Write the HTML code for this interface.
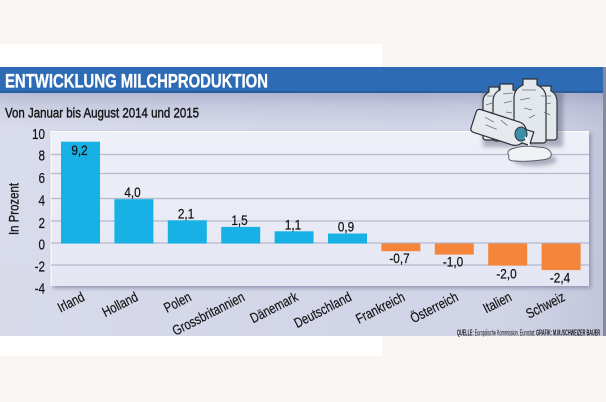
<!DOCTYPE html>
<html><head><meta charset="utf-8"><style>
html,body{margin:0;padding:0;width:606px;height:402px;overflow:hidden;background:#f9f6f4}
svg{display:block}
text{font-family:"Liberation Sans",Arial,sans-serif}
</style></head><body>
<svg width="606" height="402" viewBox="0 0 606 402" xmlns="http://www.w3.org/2000/svg">
<defs>
<linearGradient id="bg" x1="0" y1="0" x2="0" y2="1">
<stop offset="0" stop-color="#a9aecb"/>
<stop offset="0.06" stop-color="#c3c7dd"/>
<stop offset="0.15" stop-color="#d3d6e9"/>
<stop offset="1" stop-color="#d1d4e7"/>
</linearGradient>
<linearGradient id="bgh" x1="0" y1="0" x2="1" y2="0">
<stop offset="0" stop-color="#ffffff" stop-opacity="0.15"/>
<stop offset="0.7" stop-color="#ffffff" stop-opacity="0"/>
<stop offset="1" stop-color="#9095b5" stop-opacity="0.25"/>
</linearGradient>
<linearGradient id="pan" x1="0" y1="0" x2="0" y2="1">
<stop offset="0" stop-color="#eef0f8"/>
<stop offset="1" stop-color="#e4e7f3"/>
</linearGradient>
<filter id="sh" x="-10%" y="-10%" width="130%" height="130%">
<feGaussianBlur stdDeviation="2"/>
</filter>
</defs>

<rect x="0" y="0" width="606" height="402" fill="#f9f6f4"/>
<rect x="0" y="44" width="382" height="23" fill="#ffffff"/>
<rect x="0" y="336" width="382" height="20" fill="#ffffff"/>

<rect x="0" y="92" width="603" height="244" fill="url(#bg)"/>
<rect x="0" y="92" width="603" height="244" fill="url(#bgh)"/>
<rect x="603" y="67" width="3" height="269" fill="#858999"/>

<rect x="0" y="67" width="603" height="26" fill="#2d6bb4"/>
<rect x="0" y="91" width="603" height="2" fill="#255d9f"/>
<text x="5" y="87.5" font-size="19" font-weight="bold" fill="#ffffff" textLength="263" lengthAdjust="spacingAndGlyphs" stroke="#ffffff" stroke-width="0.3">ENTWICKLUNG MILCHPRODUKTION</text>

<text x="5" y="117.3" font-size="14" fill="#151515" textLength="194" lengthAdjust="spacingAndGlyphs" stroke="#151515" stroke-width="0.4">Von Januar bis August 2014 und 2015</text>

<rect x="53" y="133" width="538" height="155" fill="#8e93ad" filter="url(#sh)"/>
<rect x="50.5" y="131" width="538.5" height="155" fill="url(#pan)"/>
<line x1="50.5" y1="131.5" x2="589" y2="131.5" stroke="#ffffff" stroke-width="1"/>
<line x1="51" y1="131" x2="51" y2="286" stroke="#ffffff" stroke-width="1"/>

<g stroke="#b4b8c9" stroke-width="1.2">
<line x1="51" y1="154.5" x2="589" y2="154.5"/>
<line x1="51" y1="173.5" x2="589" y2="173.5"/>
<line x1="51" y1="198.5" x2="589" y2="198.5"/>
<line x1="51" y1="221" x2="589" y2="221"/>
<line x1="51" y1="243" x2="589" y2="243"/>
<line x1="51" y1="265" x2="589" y2="265"/>
</g>

<g font-size="15" fill="#151515" text-anchor="end" stroke="#151515" stroke-width="0.2">
<text transform="translate(45,138.8) scale(0.78,1)">10</text>
<text transform="translate(45,160.5) scale(0.78,1)">8</text>
<text transform="translate(45,182.8) scale(0.78,1)">6</text>
<text transform="translate(45,205.5) scale(0.78,1)">4</text>
<text transform="translate(45,227.8) scale(0.78,1)">2</text>
<text transform="translate(45,249.5) scale(0.78,1)">0</text>
<text transform="translate(45,271.5) scale(0.78,1)">-2</text>
<text transform="translate(45,293.5) scale(0.78,1)">-4</text>
</g>
<text transform="translate(18.3,235) rotate(-90)" font-size="14" fill="#151515" textLength="52" lengthAdjust="spacingAndGlyphs" stroke="#151515" stroke-width="0.3">In Prozent</text>

<g fill="#17b1e6">
<rect x="61" y="141.7" width="39" height="101.8"/>
<rect x="114.4" y="199.2" width="39" height="44.3"/>
<rect x="167.8" y="220.3" width="39" height="23.2"/>
<rect x="221.2" y="226.9" width="39" height="16.6"/>
<rect x="274.6" y="231.3" width="39" height="12.2"/>
<rect x="328" y="233.5" width="39" height="10"/>
</g>
<g fill="#f5853a">
<rect x="381.4" y="243.5" width="39" height="7.7"/>
<rect x="434.8" y="243.5" width="39" height="11.1"/>
<rect x="488.2" y="243.5" width="39" height="22.1"/>
<rect x="541.6" y="243.5" width="39" height="26.6"/>
</g>

<g font-size="14" fill="#151515" text-anchor="middle" stroke="#151515" stroke-width="0.25">
<text transform="translate(79.5,155) scale(0.84,1)">9,2</text>
<text transform="translate(132.5,197) scale(0.84,1)">4,0</text>
<text transform="translate(186,218.3) scale(0.84,1)">2,1</text>
<text transform="translate(239.5,224.9) scale(0.84,1)">1,5</text>
<text transform="translate(293,229.3) scale(0.84,1)">1,1</text>
<text transform="translate(346,231.5) scale(0.84,1)">0,9</text>
<text transform="translate(399.5,263.2) scale(0.84,1)">-0,7</text>
<text transform="translate(453,266.5) scale(0.84,1)">-1,0</text>
<text transform="translate(506.5,278.5) scale(0.84,1)">-2,0</text>
<text transform="translate(560,282.5) scale(0.84,1)">-2,4</text>
</g>

<g font-size="14" fill="#151515" text-anchor="end" stroke="#151515" stroke-width="0.2">
<text transform="translate(85.5,300) rotate(-27) scale(0.8,1)">Irland</text>
<text transform="translate(139,300) rotate(-27) scale(0.8,1)">Holland</text>
<text transform="translate(192.3,300) rotate(-27) scale(0.8,1)">Polen</text>
<text transform="translate(245.7,300) rotate(-27) scale(0.8,1)">Grossbritannien</text>
<text transform="translate(299.1,300) rotate(-27) scale(0.8,1)">Dänemark</text>
<text transform="translate(352.5,300) rotate(-27) scale(0.8,1)">Deutschland</text>
<text transform="translate(405.9,300) rotate(-27) scale(0.8,1)">Frankreich</text>
<text transform="translate(459.3,300) rotate(-27) scale(0.8,1)">Österreich</text>
<text transform="translate(512.7,300) rotate(-27) scale(0.8,1)">Italien</text>
<text transform="translate(566.1,300) rotate(-27) scale(0.8,1)">Schweiz</text>
</g>

<text x="457" y="335.5" font-size="8" fill="#151515" textLength="143" lengthAdjust="spacingAndGlyphs"><tspan font-weight="bold">QUELLE:</tspan> Europäische Kommission, Eurostat; <tspan font-weight="bold">GRAFIK: M.M./SCHWEIZER BAUER</tspan></text>

<g>
<g fill="#5a5f78" opacity="0.45" filter="url(#sh)" transform="translate(3,3)">
<path d="M480,88 h80 v56 h-80 z"/>
<ellipse cx="532" cy="157" rx="22" ry="6"/>
</g>
<g stroke="#2e3138" stroke-width="1.2" fill="#e3e8ec">
<path d="M489,87 h10 v5 q6,3 6,10 v35 q0,3 -3,3 h-16 q-3,0 -3,-3 v-35 q0,-7 6,-10 z"/>
<path d="M500,84 h13 v6 q8,3 8,12 v36 q0,3 -3,3 h-22 q-3,0 -3,-3 v-36 q0,-9 7,-12 z"/>
<path d="M540,86 h11 v5 q6,3 6,11 v35 q0,3 -3,3 h-17 q-3,0 -3,-3 v-35 q0,-8 6,-11 z"/>
<path d="M523,79 h14 v6 q9,4 9,13 v42 q0,3 -3,3 h-26 q-3,0 -3,-3 v-42 q0,-9 9,-13 z"/>
</g>
<g stroke="#6a7078" stroke-width="0.8" fill="none">
<path d="M486,105 l6,-2 M490,112 l5,2 M504,103 l8,-2 M506,112 l6,1 M520,100 l10,-2 M524,108 l8,2 M529,118 l6,-3 M545,104 l6,-1 M544,112 l6,3 M487,96 l8,0 M503,94 l10,-1 M522,90 l14,0 M541,96 l10,0"/>
</g>
<g transform="rotate(18 505 130)">
<path d="M476,118 h40 q6,0 9,5 h8 v14 h-8 q-3,5 -9,5 h-40 q-4,0 -4,-4 v-16 q0,-4 4,-4 z" fill="#e6eaee" stroke="#2e3138" stroke-width="1.2"/>
<path d="M482,124 l10,2 M485,131 l12,1 M498,122 l8,3" stroke="#6a7078" stroke-width="0.8"/>
</g>
<ellipse cx="521" cy="134" rx="6" ry="7" fill="#3b8fa8" stroke="#2e3138" stroke-width="1"/>
<path d="M525,137 q6,8 4,14" stroke="#ffffff" stroke-width="2" fill="none"/>
<path d="M509,156 q-4,-6 6,-8 q10,-3 22,-1 q12,0 14,6 q2,6 -10,7 q-14,2 -26,1 q-8,0 -6,-5 z" fill="#f0f3f5" stroke="#555a62" stroke-width="0.9"/>
</g>
</svg>
</body></html>
